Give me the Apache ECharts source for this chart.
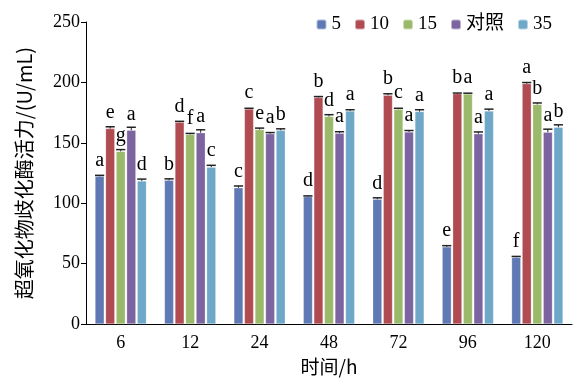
<!DOCTYPE html>
<html><head><meta charset="utf-8">
<script src="https://cdn.jsdelivr.net/npm/echarts@6/dist/echarts.min.js"></script>
<style>html,body{margin:0;padding:0;background:#fff}#c{width:575px;height:381px}</style>
</head><body><div id="c"></div>
<script>
const categories = ['6','12','24','48','72','96','120'];
const seriesNames = ['5','10','15','对照','35'];
const v5   = [122.3, 119.0, 112.8, 105.5, 103.3, 63.9, 55.2];
const v10  = [161.8, 167.0, 178.0, 187.5, 189.4, 190.7, 198.9];
const v15  = [142.9, 157.0, 161.0, 171.8, 177.8, 190.5, 181.8];
const vCK  = [160.4, 158.3, 157.5, 158.0, 159.0, 157.5, 158.8];
const v35  = [118.5, 129.9, 160.4, 176.4, 175.9, 176.4, 162.9];
const e5   = [0.8, 1.2, 1.5, 0.6, 1.2, 1.0, 0.8];
const e10  = [1.5, 0.8, 0.6, 0.8, 1.2, 0.5, 1.0];
const e15  = [1.5, 0.8, 1.2, 1.5, 0.8, 0.6, 1.2];
const eCK  = [2.5, 2.5, 1.0, 1.2, 1.2, 1.5, 2.5];
const e35  = [1.5, 1.5, 1.2, 1.0, 1.5, 1.5, 2.0];
const l5   = ['a','b','c','d','d','e','f'];
const l10  = ['e','d','c','b','b','b','a'];
const l15  = ['g','f','e','d','c','a','b'];
const lCK  = ['a','a','a','a','a','a','a'];
const l35  = ['d','c','b','a','a','a','b'];
const yTicks = [0, 50, 100, 150, 200, 250];

const vals = [v5, v10, v15, vCK, v35];
const errs = [e5, e10, e15, eCK, e35];
const lets = [l5, l10, l15, lCK, l35];
const colors = ['#5F79B5', '#B04B51', '#9BB96A', '#7C64A0', '#6EA7C8'];
const CAT_GAP = 0.26, BAR_GAP = 0.15;
const serif = '"Liberation Serif","DejaVu Serif",serif';

const chart = echarts.init(document.getElementById('c'));
const series = [];
vals.forEach((arr, si) => {
  series.push({
    name: seriesNames[si], type: 'bar', data: arr,
    barCategoryGap: (CAT_GAP*100)+'%', barGap: (BAR_GAP*100)+'%',
    itemStyle: { color: colors[si], borderColor: 'rgba(255,255,255,0.5)', borderWidth: 0.5 },
    label: { show: true, position: 'top', distance: 6, color: '#000', fontFamily: serif, fontSize: 20,
      formatter: p => lets[si][p.dataIndex] },
    z: 2
  });
});
vals.forEach((arr, si) => {
  series.push({
    type: 'custom', name: seriesNames[si] + '_err', silent: true, z: 5,
    data: arr.map((v, i) => [i, v, errs[si][i]]),
    renderItem: (params, api) => {
      const c = api.coord([api.value(0), api.value(1) + api.value(2)]);
      const band = api.size([1, 0])[0];
      const n = vals.length;
      const w = band * (1 - CAT_GAP) / (n + (n - 1) * BAR_GAP);
      const x = c[0] - band * (1 - CAT_GAP) / 2 + si * w * (1 + BAR_GAP) + w / 2;
      const base = api.coord([api.value(0), api.value(1)]);
      return { type: 'group', children: [
        { type: 'line', shape: { x1: x - w / 2, y1: c[1], x2: x + w / 2, y2: c[1] }, style: { stroke: '#222', lineWidth: 1.5 } },
        { type: 'line', shape: { x1: x, y1: c[1], x2: x, y2: base[1] }, style: { stroke: '#222', lineWidth: 1 } }
      ]};
    }
  });
});

chart.setOption({
  animation: false,
  textStyle: { fontFamily: serif },
  legend: {
    data: seriesNames, right: 18, top: 10, itemWidth: 10, itemHeight: 10, itemGap: 13,
    textStyle: { fontFamily: '"Liberation Serif","Noto Sans CJK SC",serif', fontSize: 19, color: '#000' }
  },
  grid: { left: 86, right: 3, top: 22, bottom: 51 },
  xAxis: {
    type: 'category', data: categories,
    name: '时间/h', nameLocation: 'middle', nameGap: 29,
    nameTextStyle: { fontFamily: '"Noto Sans CJK SC","Liberation Serif",serif', fontSize: 19, color: '#000' },
    axisLine: { lineStyle: { color: '#000', width: 1 } },
    axisTick: { show: false },
    axisLabel: { color: '#000', fontSize: 18, fontFamily: serif, margin: 10 }
  },
  yAxis: {
    type: 'value', min: yTicks[0], max: yTicks[yTicks.length - 1], interval: 50,
    name: '超氧化物歧化酶活力/(U/mL)', nameLocation: 'middle', nameGap: 52,
    nameTextStyle: { fontFamily: '"Noto Sans CJK SC","Liberation Serif",sans-serif', fontSize: 20, color: '#000' },
    axisLine: { show: true, lineStyle: { color: '#000', width: 1 } },
    axisTick: { show: true, length: 5, lineStyle: { color: '#000' } },
    splitLine: { show: false },
    axisLabel: { color: '#000', fontSize: 18, fontFamily: serif, margin: 6 }
  },
  series: series
});
</script></body></html>
